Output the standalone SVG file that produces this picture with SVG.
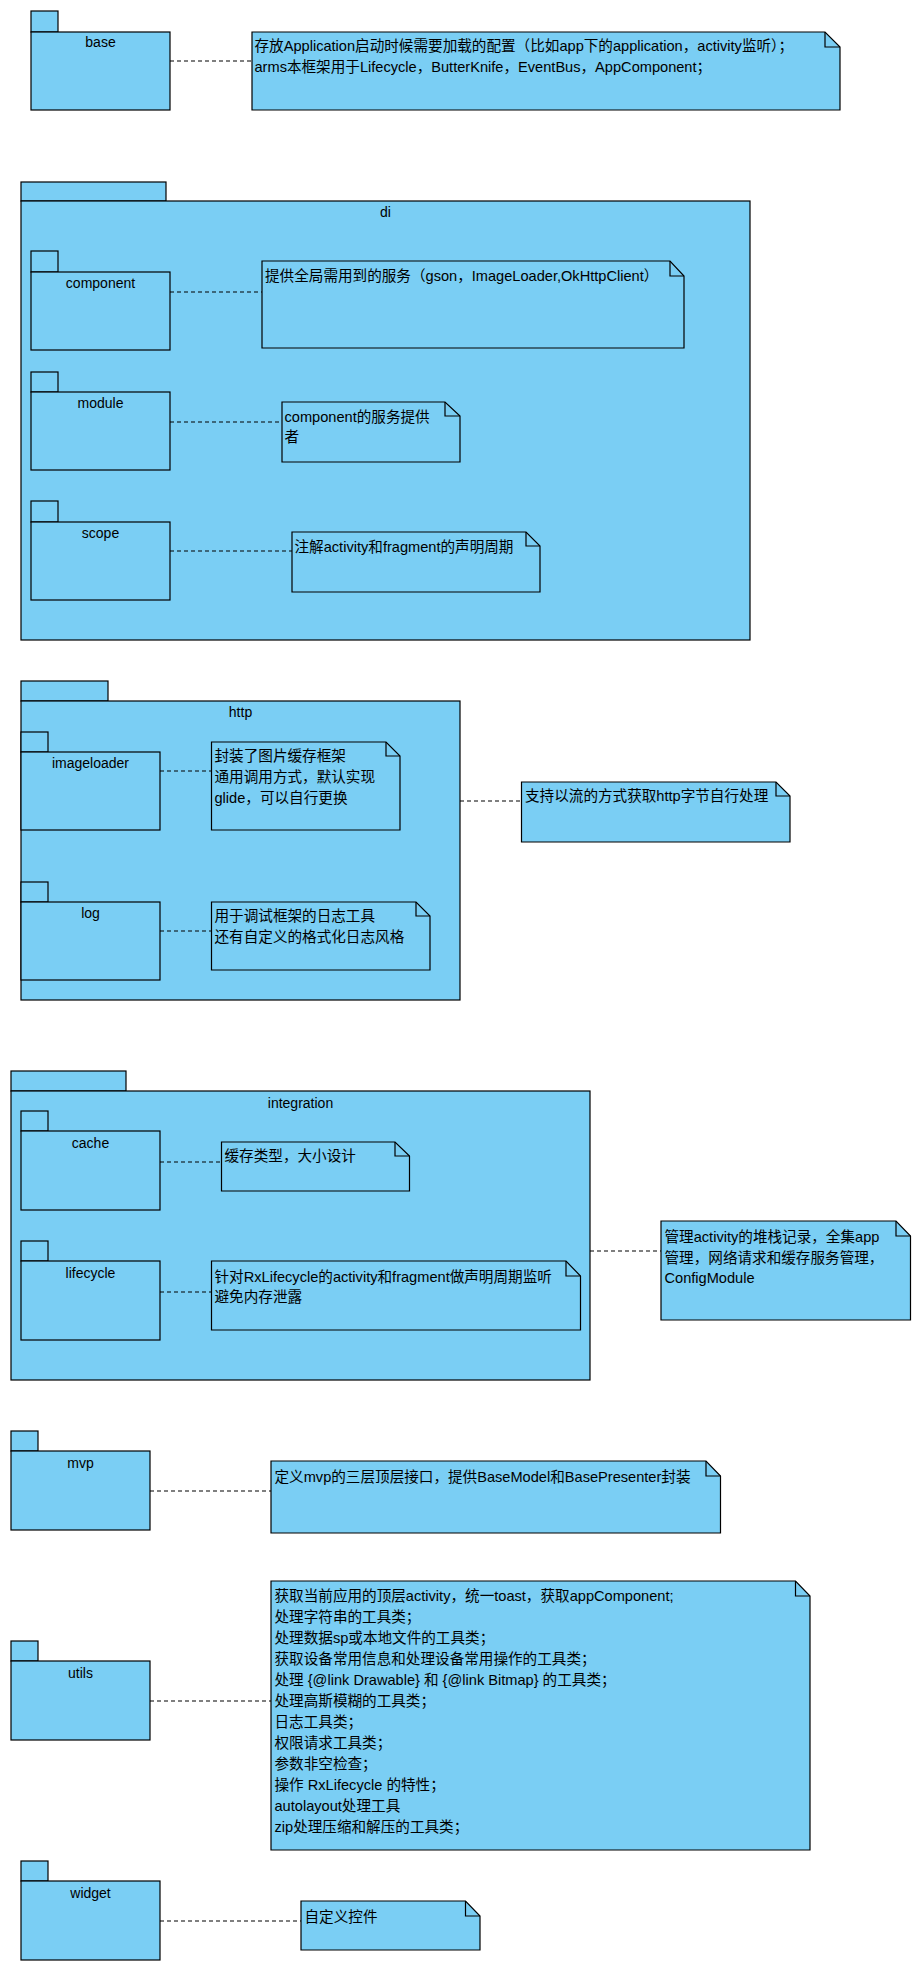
<svg xmlns="http://www.w3.org/2000/svg" width="924" height="1974" viewBox="0 0 924 1974">
<style>
.pk{fill:#7ACEF4;stroke:#000;stroke-width:1.2}
.nt{fill:#7ACEF4;stroke:#000;stroke-width:1.2}
.fd{fill:none;stroke:#000;stroke-width:1.2}
.lb{font-family:"Liberation Sans","Noto Sans CJK SC",sans-serif;font-size:14px;fill:#000;text-anchor:middle}
.tx{font-family:"Liberation Sans","Noto Sans CJK SC",sans-serif;font-size:14.6px;fill:#000}
.cn{fill:none;stroke:#000;stroke-width:1.2;stroke-dasharray:4 3}
</style>
<rect width="924" height="1974" fill="#fff"/>

<g id="base">
<rect class="pk" x="31" y="11" width="27" height="21"/>
<rect class="pk" x="31" y="32" width="139" height="78"/>
<text class="lb" x="100.5" y="47">base</text>
</g>
<g id="note-base">
<path class="nt" d="M252,32 H825 L840,47 V110 H252 Z"/>
<path class="fd" d="M825,32 V47 H840"/>
<text class="tx" x="254.5" y="51">存放Application启动时候需要加载的配置（比如app下的application，activity监听）；</text>
<text class="tx" x="254.5" y="72">arms本框架用于Lifecycle，ButterKnife，EventBus，AppComponent；</text>
</g>

<g id="di">
<rect class="pk" x="21" y="182" width="145" height="19"/>
<rect class="pk" x="21" y="201" width="729" height="439"/>
<text class="lb" x="385.5" y="217">di</text>
</g>
<g id="component">
<rect class="pk" x="31" y="251" width="27" height="21"/>
<rect class="pk" x="31" y="272" width="139" height="78"/>
<text class="lb" x="100.5" y="287.5">component</text>
</g>
<g id="note-component">
<path class="nt" d="M262,261 H670 L684,276 V348 H262 Z"/>
<path class="fd" d="M670,261 V276 H684"/>
<text class="tx" x="265" y="281">提供全局需用到的服务（gson，ImageLoader,OkHttpClient）</text>
</g>
<g id="module">
<rect class="pk" x="31" y="372" width="27" height="20"/>
<rect class="pk" x="31" y="392" width="139" height="78"/>
<text class="lb" x="100.5" y="407.5">module</text>
</g>
<g id="note-module">
<path class="nt" d="M282,402 H445 L460,416 V462 H282 Z"/>
<path class="fd" d="M445,402 V416 H460"/>
<text class="tx" x="284.5" y="421.5">component的服务提供</text>
<text class="tx" x="284.5" y="442">者</text>
</g>
<g id="scope">
<rect class="pk" x="31" y="501" width="27" height="21"/>
<rect class="pk" x="31" y="522" width="139" height="78"/>
<text class="lb" x="100.5" y="537.5">scope</text>
</g>
<g id="note-scope">
<path class="nt" d="M292,532 H526 L540,546 V592 H292 Z"/>
<path class="fd" d="M526,532 V546 H540"/>
<text class="tx" x="294.5" y="551.5">注解activity和fragment的声明周期</text>
</g>

<g id="http">
<rect class="pk" x="21" y="681" width="87" height="20"/>
<rect class="pk" x="21" y="701" width="439" height="299"/>
<text class="lb" x="240.5" y="717">http</text>
</g>
<g id="imageloader">
<rect class="pk" x="21" y="732" width="27" height="20"/>
<rect class="pk" x="21" y="752" width="139" height="78"/>
<text class="lb" x="90.5" y="767.5">imageloader</text>
</g>
<g id="note-imageloader">
<path class="nt" d="M211.5,742 H386 L400,756 V830 H211.5 Z"/>
<path class="fd" d="M386,742 V756 H400"/>
<text class="tx" x="214.5" y="761">封装了图片缓存框架</text>
<text class="tx" x="214.5" y="782">通用调用方式，默认实现</text>
<text class="tx" x="214.5" y="803">glide，可以自行更换</text>
</g>
<g id="note-http">
<path class="nt" d="M521.5,782 H776 L790,796 V842 H521.5 Z"/>
<path class="fd" d="M776,782 V796 H790"/>
<text class="tx" x="525" y="801">支持以流的方式获取http字节自行处理</text>
</g>
<g id="log">
<rect class="pk" x="21" y="882" width="27" height="20"/>
<rect class="pk" x="21" y="902" width="139" height="78"/>
<text class="lb" x="90.5" y="917.5">log</text>
</g>
<g id="note-log">
<path class="nt" d="M211.5,902 H416 L430,916 V970 H211.5 Z"/>
<path class="fd" d="M416,902 V916 H430"/>
<text class="tx" x="214.5" y="921">用于调试框架的日志工具</text>
<text class="tx" x="214.5" y="942">还有自定义的格式化日志风格</text>
</g>

<g id="integration">
<rect class="pk" x="11" y="1071" width="115" height="20"/>
<rect class="pk" x="11" y="1091" width="579" height="289"/>
<text class="lb" x="300.5" y="1107.5">integration</text>
</g>
<g id="cache">
<rect class="pk" x="21" y="1111" width="27" height="20"/>
<rect class="pk" x="21" y="1131" width="139" height="79"/>
<text class="lb" x="90.5" y="1147.5">cache</text>
</g>
<g id="note-cache">
<path class="nt" d="M221.5,1142 H395 L409.5,1156 V1191 H221.5 Z"/>
<path class="fd" d="M395,1142 V1156 H409.5"/>
<text class="tx" x="224.5" y="1161">缓存类型，大小设计</text>
</g>
<g id="lifecycle">
<rect class="pk" x="21" y="1241" width="27" height="20"/>
<rect class="pk" x="21" y="1261" width="139" height="79"/>
<text class="lb" x="90.5" y="1277.5">lifecycle</text>
</g>
<g id="note-lifecycle">
<path class="nt" d="M211.5,1261 H566 L580.5,1276 V1330 H211.5 Z"/>
<path class="fd" d="M566,1261 V1276 H580.5"/>
<text class="tx" x="214.5" y="1281.5">针对RxLifecycle的activity和fragment做声明周期监听</text>
<text class="tx" x="214.5" y="1302">避免内存泄露</text>
</g>
<g id="note-integration">
<path class="nt" d="M661,1221 H896 L910.5,1236 V1320 H661 Z"/>
<path class="fd" d="M896,1221 V1236 H910.5"/>
<text class="tx" x="664.5" y="1242">管理activity的堆栈记录，全集app</text>
<text class="tx" x="664.5" y="1262.5">管理，网络请求和缓存服务管理，</text>
<text class="tx" x="664.5" y="1283">ConfigModule</text>
</g>

<g id="mvp">
<rect class="pk" x="11" y="1431" width="27" height="20"/>
<rect class="pk" x="11" y="1451" width="139" height="79"/>
<text class="lb" x="80.5" y="1468">mvp</text>
</g>
<g id="note-mvp">
<path class="nt" d="M271,1461 H706 L720.5,1476 V1533 H271 Z"/>
<path class="fd" d="M706,1461 V1476 H720.5"/>
<text class="tx" x="274.5" y="1481.5">定义mvp的三层顶层接口，提供BaseModel和BasePresenter封装</text>
</g>

<g id="utils">
<rect class="pk" x="11" y="1641" width="27" height="20"/>
<rect class="pk" x="11" y="1661" width="139" height="79"/>
<text class="lb" x="80.5" y="1678">utils</text>
</g>
<g id="note-utils">
<path class="nt" d="M271,1581 H795.5 L810,1596 V1850 H271 Z"/>
<path class="fd" d="M795.5,1581 V1596 H810"/>
<text class="tx" x="274.5" y="1601">获取当前应用的顶层activity，统一toast，获取appComponent;</text>
<text class="tx" x="274.5" y="1622">处理字符串的工具类；</text>
<text class="tx" x="274.5" y="1643">处理数据sp或本地文件的工具类；</text>
<text class="tx" x="274.5" y="1664">获取设备常用信息和处理设备常用操作的工具类；</text>
<text class="tx" x="274.5" y="1685">处理 {@link Drawable} 和 {@link Bitmap} 的工具类；</text>
<text class="tx" x="274.5" y="1706">处理高斯模糊的工具类；</text>
<text class="tx" x="274.5" y="1727">日志工具类；</text>
<text class="tx" x="274.5" y="1748">权限请求工具类；</text>
<text class="tx" x="274.5" y="1769">参数非空检查；</text>
<text class="tx" x="274.5" y="1790">操作 RxLifecycle 的特性；</text>
<text class="tx" x="274.5" y="1811">autolayout处理工具</text>
<text class="tx" x="274.5" y="1831.5">zip处理压缩和解压的工具类；</text>
</g>

<g id="widget">
<rect class="pk" x="21" y="1861" width="27" height="20"/>
<rect class="pk" x="21" y="1881" width="139" height="79"/>
<text class="lb" x="90.5" y="1897.5">widget</text>
</g>
<g id="note-widget">
<path class="nt" d="M301,1901 H465.5 L480,1916 V1950 H301 Z"/>
<path class="fd" d="M465.5,1901 V1916 H480"/>
<text class="tx" x="304.5" y="1921.5">自定义控件</text>
</g>

<g id="connectors">
<line class="cn" x1="170" y1="61" x2="252" y2="61"/>
<line class="cn" x1="170" y1="292" x2="262" y2="292"/>
<line class="cn" x1="170" y1="422" x2="282" y2="422"/>
<line class="cn" x1="170" y1="551" x2="292" y2="551"/>
<line class="cn" x1="160" y1="771" x2="211.5" y2="771"/>
<line class="cn" x1="460" y1="801" x2="521.5" y2="801"/>
<line class="cn" x1="160" y1="931" x2="211.5" y2="931"/>
<line class="cn" x1="160" y1="1162" x2="221.5" y2="1162"/>
<line class="cn" x1="160" y1="1292" x2="211.5" y2="1292"/>
<line class="cn" x1="590" y1="1251" x2="661" y2="1251"/>
<line class="cn" x1="150" y1="1491" x2="271" y2="1491"/>
<line class="cn" x1="150" y1="1701" x2="271" y2="1701"/>
<line class="cn" x1="160" y1="1921" x2="301" y2="1921"/>
</g>
</svg>
